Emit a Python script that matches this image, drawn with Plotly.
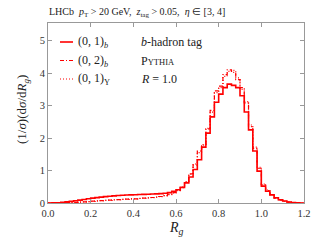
import numpy as np
import plotly.graph_objects as go

# bin edges (R_g) : 60 bins of width 0.02 from 0 to 1.2
bin_lo, bin_hi, bin_w = 0.0, 1.2, 0.02

b01 = [0.0, 0.003, 0.01, 0.02, 0.035, 0.05, 0.07, 0.09, 0.11, 0.13,
       0.15, 0.165, 0.18, 0.195, 0.21, 0.22, 0.23, 0.24, 0.245, 0.25,
       0.255, 0.26, 0.265, 0.27, 0.275, 0.28, 0.29, 0.30, 0.32, 0.36,
       0.41, 0.48, 0.62, 0.80, 1.03, 1.33, 1.72, 2.15, 2.65, 3.10,
       3.35, 3.55, 3.66, 3.62, 3.55, 3.30, 2.80, 2.25, 1.60, 0.98,
       0.52, 0.36, 0.25, 0.16, 0.10, 0.06, 0.03, 0.015, 0.005, 0.0]

b02 = [0.0, 0.0, 0.003, 0.006, 0.01, 0.015, 0.02, 0.03, 0.035, 0.045,
       0.055, 0.065, 0.075, 0.085, 0.09, 0.10, 0.105, 0.11, 0.12, 0.125,
       0.13, 0.14, 0.15, 0.16, 0.17, 0.18, 0.20, 0.23, 0.27, 0.32,
       0.39, 0.49, 0.66, 0.90, 1.20, 1.60, 1.78, 2.28, 2.85, 3.45,
       3.60, 3.95, 4.10, 4.02, 3.80, 3.55, 3.08, 2.35, 1.68, 1.07,
       0.56, 0.38, 0.25, 0.15, 0.09, 0.05, 0.025, 0.01, 0.005, 0.0]

u01 = [0.0, 0.0, 0.002, 0.005, 0.009, 0.014, 0.02, 0.028, 0.035, 0.044,
       0.053, 0.063, 0.073, 0.082, 0.09, 0.098, 0.105, 0.112, 0.118, 0.124,
       0.13, 0.138, 0.148, 0.158, 0.168, 0.18, 0.198, 0.225, 0.26, 0.31,
       0.38, 0.47, 0.64, 0.88, 1.17, 1.55, 1.80, 2.30, 2.80, 3.40,
       3.55, 3.90, 4.05, 4.08, 3.85, 3.50, 3.12, 2.40, 1.72, 1.10,
       0.58, 0.40, 0.26, 0.16, 0.10, 0.055, 0.028, 0.012, 0.005, 0.0]

x_ticks = [0.0, 0.2, 0.4, 0.6, 0.8, 1.0, 1.2]
y_ticks = [0, 1, 2, 3, 4, 5]

edges = np.round(np.arange(bin_lo, bin_hi + bin_w / 2, bin_w), 4)

RED = "#ff0000"
SERIF = "Liberation Serif"

fig = go.Figure()

def add_hist(vals, dash, width, name):
    y = list(vals) + [vals[-1]]
    fig.add_trace(go.Scatter(x=edges, y=y, mode="lines", line_shape="hv",
                             line=dict(color=RED, width=width, dash=dash),
                             name=name, showlegend=False))

add_hist(u01, "1px,2px", 1.2, "(0,1)Y")
add_hist(b02, "4px,2px,1px,2px", 1.2, "(0,2)b")
add_hist(b01, "solid", 1.6, "(0,1)b")

# page offset (browser body margin)
OFF = 8
W, H = 320, 240
L, R = 48 - OFF, 304 - OFF
top, bot = 23 - OFF, 203 - OFF
def py(ypx):  # screen px -> paper
    return (bot - (ypx - OFF)) / (bot - top)
def px(xpx):
    return ((xpx - OFF) - L) / (R - L)

# manual legend
rows = [("(0, 1)<sub><i>b</i></sub>", "solid", 1.6, "<i>b</i>-hadron tag"),
        ("(0, 2)<sub><i>b</i></sub>", "4px,2px,1px,2px", 1.2,
         "P<span style='font-size:8.5px'>YTHIA</span>"),
        ("(0, 1)<sub>\u03a5</sub>", "1px,2px", 1.2, "<i>R</i> = 1.0")]

for i, (lab, dash, w, rtxt) in enumerate(rows):
    yy = 42 + i * 18.5
    fig.add_shape(type="line", xref="paper", yref="paper",
                  x0=px(60), x1=px(73), y0=py(yy), y1=py(yy),
                  line=dict(color=RED, width=w, dash=dash))
    fig.add_annotation(xref="paper", yref="paper", x=px(76), y=py(yy),
                       text=lab, showarrow=False, xanchor="left", yanchor="middle",
                       font=dict(family=SERIF, size=12, color="#222"))
    fig.add_annotation(xref="paper", yref="paper", x=px(139), y=py(yy),
                       text=rtxt, showarrow=False, xanchor="left", yanchor="middle",
                       font=dict(family=SERIF, size=12, color="#222"))

# title
fig.add_annotation(xref="paper", yref="paper", x=px(47), y=py(13), xanchor="left",
                   yanchor="middle", showarrow=False,
                   text="LHCb  <i>p</i><sub>T</sub> > 20 GeV,  <i>z</i><sub>tag</sub> > 0.05,  <i>\u03b7</i> \u2208 [3, 4]",
                   font=dict(family=SERIF, size=10, color="#222"))

# axis titles
fig.add_annotation(xref="paper", yref="paper", x=px(176), y=py(228),
                   xanchor="center", yanchor="middle", showarrow=False,
                   text="<i>R<sub>g</sub></i>",
                   font=dict(family=SERIF, size=14, color="#222"))
fig.add_annotation(xref="paper", yref="paper", x=px(23), y=py(110),
                   xanchor="center", yanchor="middle", showarrow=False, textangle=-90,
                   text="(1/<i>\u03c3</i>)(d<i>\u03c3</i>/d<i>R<sub>g</sub></i>)",
                   font=dict(family=SERIF, size=13, color="#222"))

axis_common = dict(showline=True, linecolor="#999", linewidth=1, mirror="ticks",
                   ticks="inside", ticklen=4, tickcolor="#999", showgrid=False,
                   zeroline=False, automargin=False,
                   tickfont=dict(family=SERIF, size=10.5, color="#333"))

fig.update_xaxes(range=[0, 1.2], tickvals=x_ticks,
                 ticktext=[f"{v:.1f}" for v in x_ticks], **axis_common)
fig.update_yaxes(range=[0, 5.54], tickvals=y_ticks,
                 ticktext=[str(v) for v in y_ticks], **axis_common)

fig.update_layout(width=W, height=H, margin=dict(l=L, r=W - R, t=top, b=H - bot),
                  plot_bgcolor="white", paper_bgcolor="white", showlegend=False)

fig.write_html("out.html")
